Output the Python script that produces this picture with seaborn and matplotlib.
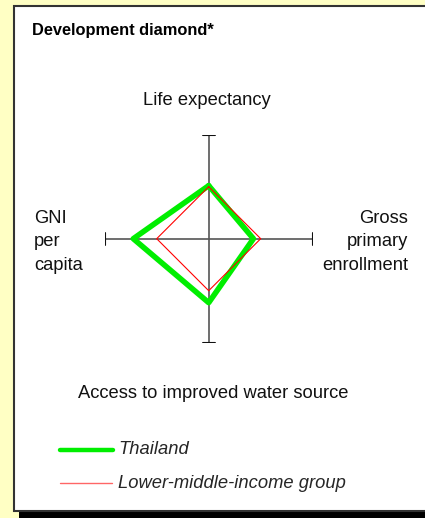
import numpy as np
import pandas as pd
import matplotlib
matplotlib.use("Agg")
import matplotlib.pyplot as plt
import seaborn as sns
from matplotlib.patches import Rectangle
from matplotlib.lines import Line2D

# ---- data ----
indicators = ["Life expectancy", "Gross primary enrollment",
              "Access to improved water source", "GNI per capita"]
angles_deg = [90, 0, 270, 180]
thailand = [102, 86, 123, 145]
group = [100, 100, 100, 100]
series_names = ["Thailand", "Lower-middle-income group"]
axis_max = 200

sns.set_theme(style="white")
plt.rcParams['font.family'] = ['Liberation Sans', 'DejaVu Sans']

W, H = 425, 518
fig = plt.figure(figsize=(W / 100, H / 100), dpi=100)
fig.patch.set_facecolor('#ffffc4')

def fx(x): return x / W
def fy(y): return 1 - y / H

# panel box with shadow
fig.patches.append(Rectangle((fx(19), fy(518)), fx(W) - fx(19), fy(511) - fy(518),
                             transform=fig.transFigure, facecolor='black', edgecolor='none', zorder=-3))
fig.patches.append(Rectangle((fx(14), fy(511)), fx(W + 5) - fx(14), fy(6) - fy(511),
                             transform=fig.transFigure, facecolor='white', edgecolor='#333333',
                             linewidth=1.5, zorder=-2))

# diamond axes
cx, cy, r = 208.7, 238.7, 104
ax = fig.add_axes([fx(cx - r), fy(cy + r), (2 * r) / W, (2 * r) / H])
ax.set_zorder(2)
ax.set_xlim(-axis_max, axis_max)
ax.set_ylim(-axis_max, axis_max)
ax.axis('off')
ax.patch.set_alpha(0)

# axes lines
cap = 11.5
ax.plot([-axis_max, axis_max], [0, 0], color='#555555', lw=1.2, zorder=1)
ax.plot([0, 0], [-axis_max, axis_max], color='#555555', lw=1.2, zorder=1)
for s in (-1, 1):
    ax.plot([s * axis_max, s * axis_max], [-cap, cap], color='#111111', lw=1.5, zorder=1)
    ax.plot([-cap, cap], [s * axis_max, s * axis_max], color='#111111', lw=1.5, zorder=1)

rows = []
for name, vals in zip(series_names, [thailand, group]):
    for i, (a, v) in enumerate(list(zip(angles_deg, vals)) + [(angles_deg[0], vals[0])]):
        rows.append(dict(series=name, order=i,
                         x=v * np.cos(np.radians(a)), y=v * np.sin(np.radians(a))))
df = pd.DataFrame(rows)

sns.lineplot(data=df[df.series == series_names[0]], x='x', y='y', sort=False, estimator=None,
             color='#00ee00', linewidth=4.0, ax=ax, legend=False, zorder=2)
sns.lineplot(data=df[df.series == series_names[1]], x='x', y='y', sort=False, estimator=None,
             color='#ff0000', linewidth=0.8, ax=ax, legend=False, zorder=3)
ax.set_xlabel('')
ax.set_ylabel('')

# texts
fs = 13.2
fig.text(fx(32), fy(30), "Development diamond*", fontsize=11.8, fontweight='bold',
         ha='left', va='center', color='black')
fig.text(fx(207), fy(100), indicators[0], fontsize=fs, ha='center', va='center', color='#111111')
fig.text(fx(213), fy(393), indicators[2], fontsize=fs, ha='center', va='center', color='#111111')
fig.text(fx(34), fy(242), "GNI\nper\ncapita", fontsize=fs, ha='left', va='center',
         linespacing=1.5, color='#111111')
fig.text(fx(408), fy(242), "Gross\nprimary\nenrollment", fontsize=fs, ha='right', va='center',
         linespacing=1.5, color='#111111')

# legend
fig.add_artist(Line2D([fx(60), fx(113)], [fy(450), fy(450)], transform=fig.transFigure,
                      color='#00ee00', lw=3.2, solid_capstyle='round'))
fig.add_artist(Line2D([fx(60), fx(112)], [fy(483), fy(483)], transform=fig.transFigure,
                      color='#ff6666', lw=1.0))
fig.text(fx(118), fy(450), series_names[0], fontsize=fs, style='italic', ha='left', va='center')
fig.text(fx(118), fy(483), series_names[1], fontsize=fs, style='italic', ha='left', va='center')

fig.savefig("out.png", dpi=100, facecolor=fig.get_facecolor())
